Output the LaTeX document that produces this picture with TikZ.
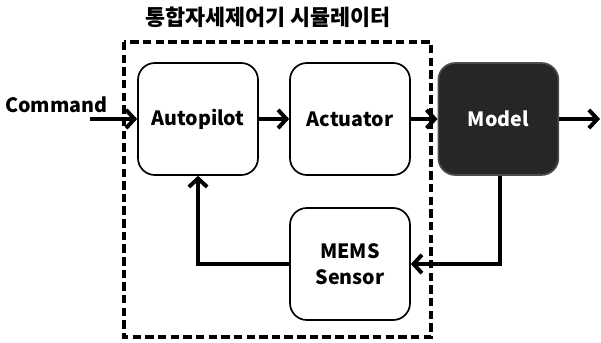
\documentclass[tikz,border=0pt]{standalone}
\usepackage{fontspec}
\setmainfont{Noto Sans CJK KR}
\usetikzlibrary{arrows.meta}
\usetikzlibrary{shapes}

\begin{document}
\begin{tikzpicture}[node distance = 3.8cm, auto]
    \tikzstyle{every node}=[font=\bfseries\fontsize{14}{18.5}\selectfont]
    \tikzstyle{block}    = [rectangle, draw, line width=1.2pt, fill=white, minimum width=3cm, minimum height=2.8cm, align=center, rounded corners=12pt]
    \tikzstyle{dark}     = [fill=black!85, draw=black!70, text=white]
    \tikzstyle{line}     = [draw, line width=2.8pt, -{Straight Barb[length=6pt, width=13pt]}]

    \useasboundingbox (0,0) rectangle (15.025,-8.575);
    \draw [line width=2.2pt, dash pattern=on 6pt off 3pt] (3.1,-1.05) rectangle (10.775,-8.425);
    \node [font=\bfseries\fontsize{15.5}{18}\selectfont] (title) at (6.7,-0.425) {통합자세제어기 시뮬레이터};

    % Place nodes
    \node [block] (autopilot) at (4.95,-2.975) {Autopilot};
    \node [block, right of=autopilot] (actuator) {Actuator};
    \node [block, dark, right of=actuator, node distance=3.71cm] (model) {Model};
    \node [block, below of=actuator, node distance=3.625cm] (sensor) {MEMS\\Sensor};

    % Input / output
    \node (command) at (1.41,-2.63) {Command};
    \coordinate (in) at (2.25,-2.975);
    \coordinate (out) at (15.0,-2.975);

    \path [line] (in) -- (autopilot);
    \path [line] (autopilot) -- (actuator);
    \path [line] (actuator) -- (model);
    \path [line] (model) -- (out);
    \path [line] ([xshift=0.04cm]model.south) |- (sensor.east);
    \path [line] (sensor.west) -| (autopilot.south);
\end{tikzpicture}
\end{document}
